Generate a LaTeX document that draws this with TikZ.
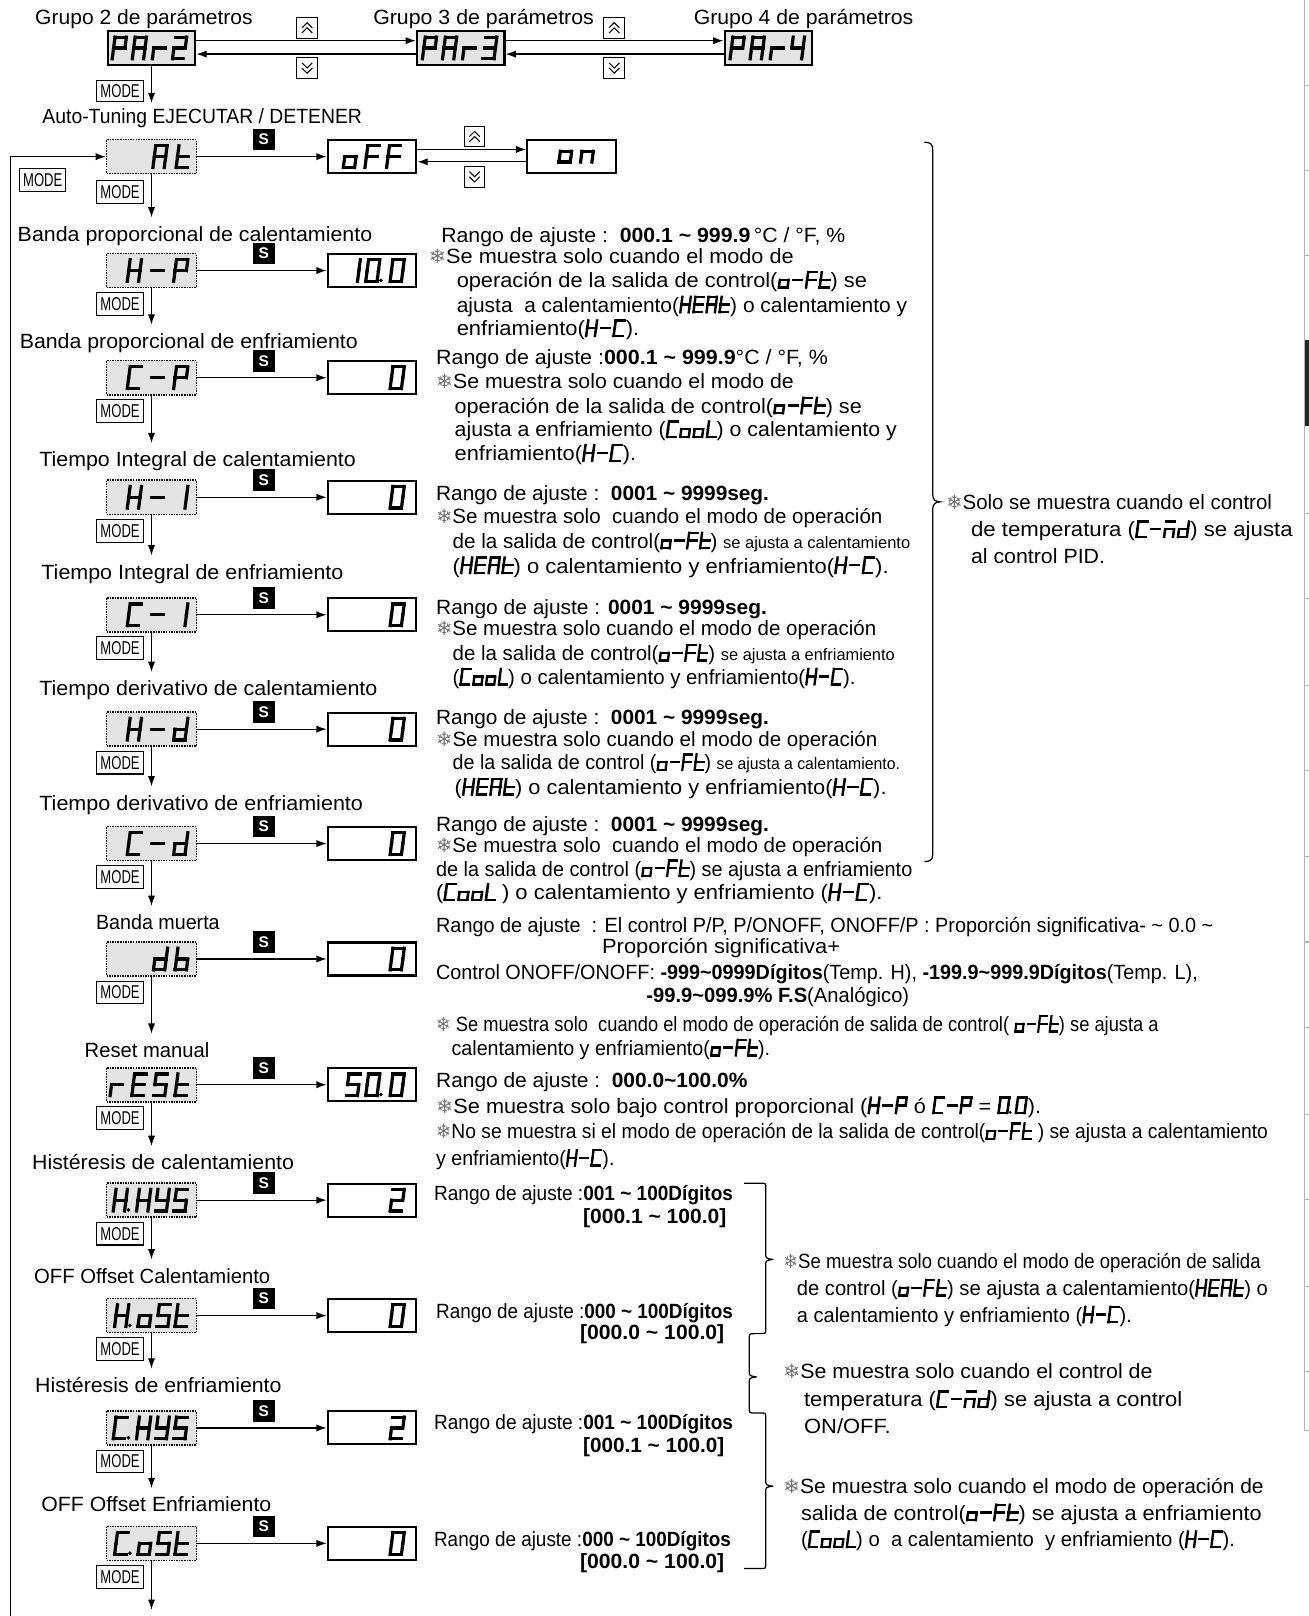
\documentclass[tikz,border=0pt]{standalone}
\usepackage{fontspec}
\setmainfont{Liberation Sans}
\newfontfamily\djv{DejaVu Sans}
\usepackage{graphicx}
\usetikzlibrary{arrows.meta}

\makeatletter
\newdimen\sg@x
\def\sg@seg@a{\draw (0,2)--(1,2);}
\def\sg@seg@b{\draw (1,2)--(1,1);}
\def\sg@seg@c{\draw (1,1)--(1,0);}
\def\sg@seg@d{\draw (0,0)--(1,0);}
\def\sg@seg@e{\draw (0,0)--(0,1);}
\def\sg@seg@f{\draw (0,1)--(0,2);}
\def\sg@seg@g{\draw (0,1)--(1,1);}
\def\sg@put#1{\begin{scope}[xshift=\the\sg@x,xslant=0.13]\foreach \sgS in {#1}{\csname sg@seg@\sgS\endcsname}\end{scope}\global\advance\sg@x by \sgA\relax}
\def\sg@d#1#2{\expandafter\def\csname sgc@#1\endcsname{\sg@put{#2}}}
\sg@d{0}{a,b,c,d,e,f}
\sg@d{1}{b,c}
\sg@d{2}{a,b,g,e,d}
\sg@d{3}{a,b,g,c,d}
\sg@d{4}{f,g,b,c}
\sg@d{5}{a,f,g,c,d}
\sg@d{S}{a,f,g,c,d}
\sg@d{P}{a,b,f,g,e}
\sg@d{A}{a,b,c,e,f,g}
\sg@d{r}{e,g}
\sg@d{t}{f,e,d,g}
\sg@d{o}{g,c,d,e}
\sg@d{F}{a,f,g,e}
\sg@d{n}{e,g,c}
\sg@d{H}{f,e,b,c,g}
\sg@d{-}{g}
\sg@d{C}{a,f,e,d}
\sg@d{I}{b,c}
\sg@d{d}{b,c,d,e,g}
\sg@d{b}{f,e,d,c,g}
\sg@d{E}{a,f,g,e,d}
\sg@d{Y}{f,b,g,c,d}
\sg@d{L}{f,e,d}
\sg@d{m}{a,e,g,c}
\expandafter\def\csname sgc@_\endcsname{\global\advance\sg@x by \sgA\relax}
\expandafter\def\csname sgc@.\endcsname{\begin{scope}[xshift={\the\sg@x-\sgA+\sgW+1.2*\sgL}]\fill (0,0.3*\sgL) circle[radius=0.62*\sgL];\end{scope}\global\advance\sg@x by 1.5\dimexpr\sgL\relax}
\def\sg@parse#1{\ifx\relax#1\else\csname sgc@#1\endcsname\expandafter\sg@parse\fi}
\newcommand\sevseg[5]{\tikz[baseline=0pt,x=#1,y=#2,line width=#4,line cap=rect]{\def\sgA{#3}\def\sgW{#1}\def\sgL{#4}\global\sg@x=0pt\relax\sg@parse#5\relax}}
\makeatother

\newcommand\dspl[2][20.5pt]{\sevseg{11pt}{10.5pt}{#1}{3.1pt}{#2}}
\newcommand\sgi[1]{\sevseg{8pt}{7.5pt}{12.5pt}{2.3pt}{#1}}
\newcommand\fitw[2]{\resizebox{#1pt}{\height}{#2}}
\newcommand\snow{{\djv\fontsize{19}{19}\selectfont\color{black!55}❄}}
\newcommand\modetxt{\fitw{38}{\fontsize{18}{18}\selectfont MODE}}
\newcommand\upch{\tikz[x=1pt,y=1pt,line width=1pt]{\draw (0,0)--(5,5)--(10,0); \draw (0,5)--(5,10)--(10,5);}}
\newcommand\dnch{\tikz[x=1pt,y=1pt,line width=1pt]{\draw (0,10)--(5,5)--(10,10); \draw (0,5)--(5,0)--(10,5);}}

\tikzset{
  txt/.style={anchor=base west,inner sep=0pt,font=\fontsize{20}{24}\selectfont},
  txe/.style={anchor=base east,inner sep=0pt,font=\fontsize{20}{24}\selectfont},
  arr/.style={-{Latex[length=10pt,width=7pt]},line width=1.2pt},
  disp/.style={draw,densely dotted,line width=1.5pt,fill=gray!22,minimum width=87pt,minimum height=33pt,inner sep=0pt},
  parbox/.style={draw,line width=2pt,fill=gray!22,minimum width=85pt,minimum height=33pt,inner sep=0pt},
  valbox/.style={draw,line width=2pt,fill=white,minimum width=86pt,minimum height=32pt,inner sep=0pt},
  glyph/.style={inner sep=0pt},
  sbox/.style={fill=black,text=white,minimum width=22pt,minimum height=21pt,inner sep=0pt,font=\fontsize{15}{15}\selectfont\bfseries},
  modebtn/.style={draw,line width=1pt,minimum width=45pt,minimum height=22pt,inner sep=0pt},
  btn/.style={draw,line width=1pt,minimum width=20pt,minimum height=20pt,inner sep=0pt},
  brace/.style={line width=1.2pt}
}

\newcommand\prow[6]{%
  \node[disp] (d#1) at (147,#2+16.5) {};
  \node[glyph,anchor=east] (dg#1) at (184,#2+16.5) {\dspl[#6]{#3}};
  \node[valbox] (v#1) at (361,#2+16.5) {};
  \node[glyph,anchor=east] (vg#1) at (394,#2+16.5) {\dspl[19pt]{#4}};
  \node[sbox] (s#1) at (256,#2) {S};
  \node[modebtn] (m#1) at (116.5,#2+49) {\modetxt};
  \coordinate (e#1) at (147,#5);
  \draw[arr] (d#1) -- (v#1);
  \draw[arr] (d#1) -- (e#1);
}

\begin{document}
\begin{tikzpicture}[x=1pt,y=-1pt]
\useasboundingbox (0,0) rectangle (1270,1568);
\fill[white] (0,0) rectangle (1270,1568);

% right page strip
\draw[gray!60,line width=1.2pt] (1266,0) -- (1266,1388) -- (1270,1388);
\foreach \yy in {83,165,248,498,581,665,748,831,914,997,1081,1164,1248,1331} \draw[gray!60,line width=1pt] (1266,\yy) -- (1270,\yy);
\fill[black!85] (1266,330) rectangle (1270,413);

% top row
\node[txt] (g2) at (34,24) {\fitw{211}{Grupo 2 de parámetros}};
\node[txt] (g3) at (362,24) {\fitw{214}{Grupo 3 de parámetros}};
\node[txt] (g4) at (673,24) {\fitw{213}{Grupo 4 de parámetros}};
\node[parbox] (p2) at (147,46.5) {};
\node[parbox] (p3) at (447,46.5) {};
\node[parbox] (p4) at (745.5,46.5) {};
\node[glyph] (p2g) at (145,46.5) {\dspl[19.5pt]{PAr2}};
\node[glyph] (p3g) at (446,46.5) {\dspl[19.5pt]{PAr3}};
\node[glyph] (p4g) at (744.5,46.5) {\dspl[19.5pt]{PAr4}};
\node[btn] (u1) at (298,27) {\upch};
\node[btn] (w1) at (298,66) {\dnch};
\node[btn] (u2) at (596,27) {\upch};
\node[btn] (w2) at (596,66) {\dnch};
\draw[arr] ([yshift=7pt]p2.east) -- ([yshift=7pt]p3.west);
\draw[arr] ([yshift=-6pt]p3.west) -- ([yshift=-6pt]p2.east);
\draw[arr] ([yshift=7pt]p3.east) -- ([yshift=7pt]p4.west);
\draw[arr] ([yshift=-6pt]p4.west) -- ([yshift=-6pt]p3.east);
\node[modebtn,minimum height=20pt] (m0) at (116.5,88.5) {\modetxt};
\coordinate (e0) at (147,100);
\draw[arr] (p2) -- (e0);

% AT row
\node[txt] (lat) at (41,120) {\fitw{310}{Auto-Tuning EJECUTAR / DETENER}};
\node[disp] (dAt) at (147,152) {};
\node[glyph,anchor=east] (dgAt) at (185,152) {\dspl[22.5pt]{At}};
\node[sbox] (sAt) at (256,135.5) {S};
\node[valbox] (oF) at (361,152) {};
\node[glyph] (oFg) at (361,152) {\dspl[21pt]{oFF}};
\node[valbox] (on) at (554.5,152) {};
\node[glyph] (ong) at (559,152) {\dspl[21pt]{on}};
\node[btn] (u3) at (460.5,132.5) {\upch};
\node[btn] (w3) at (460.5,171.5) {\dnch};
\draw[arr] (dAt) -- (oF);
\draw[arr] ([yshift=7pt]oF.east) -- ([yshift=7pt]on.west);
\draw[arr] ([yshift=-5pt]on.west) -- ([yshift=-5pt]oF.east);
\node[modebtn] (mAt) at (116.5,186) {\modetxt};
\coordinate (eAt) at (147,211);
\draw[arr] (dAt) -- (eAt);
\coordinate (lb) at (10,1568);
\draw[arr] (lb) |- (dAt.west);
\node[modebtn] (mL) at (41.5,174.5) {\modetxt};

% labels
\node[txt] (l1) at (17,234) {\fitw{344}{Banda proporcional de calentamiento}};
\node[txt] (l2) at (19,338) {\fitw{328}{Banda proporcional de enfriamiento}};
\node[txt] (l3) at (38,453) {\fitw{307}{Tiempo Integral de calentamiento}};
\node[txt] (l4) at (40,562) {\fitw{293}{Tiempo Integral de enfriamiento}};
\node[txt] (l5) at (38,675) {\fitw{328}{Tiempo derivativo de calentamiento}};
\node[txt] (l6) at (38,786) {\fitw{314}{Tiempo derivativo de enfriamiento}};
\node[txt] (l7) at (93,902) {\fitw{120}{Banda muerta}};
\node[txt] (l8) at (82,1026) {\fitw{121}{Reset manual}};
\node[txt] (l9) at (31,1135) {\fitw{254}{Histéresis de calentamiento}};
\node[txt] (l10) at (33,1245) {\fitw{229}{OFF Offset Calentamiento}};
\node[txt] (l11) at (34,1351) {\fitw{239}{Histéresis de enfriamiento}};
\node[txt] (l12) at (40,1467) {\fitw{223}{OFF Offset Enfriamiento}};

% parameter rows
\prow{HP}{246}{H-P}{10.0}{315}{22.5pt}
\prow{CP}{350}{C-P}{0}{430}{22.5pt}
\prow{HI}{466}{H-I}{0}{539}{22.5pt}
\prow{CI}{580}{C-I}{0}{652}{22.5pt}
\prow{Hd}{691}{H-d}{0}{763}{22.5pt}
\prow{Cd}{802}{C-d}{0}{879}{22.5pt}
\prow{db}{914}{db}{0}{1003}{21pt}
\prow{rESt}{1036}{rESt}{50.0}{1112}{21pt}
\prow{HHYS}{1148}{H.HYS}{2}{1222}{18pt}
\prow{HoSt}{1260}{H.oSt}{0}{1328}{18pt}
\prow{CHYS}{1369}{C.HYS}{2}{1444}{18pt}
\prow{CoSt}{1481}{C.oSt}{0}{1562}{18pt}

% texts H-P
\node[txt] (t1a) at (428,235) {\fitw{392}{Rango de ajuste :\ \ \textbf{000.1 \textasciitilde{} 999.9}\,°C / °F, \%}};
\node[txt] (t1b) at (416,256) {\fitw{354}{\snow Se muestra solo cuando el modo de}};
\node[txt] (t1c) at (443,279) {\fitw{398}{operación de la salida de control(\sgi{o-Ft}) se}};
\node[txt] (t1d) at (443,303) {\fitw{437}{ajusta\ \ a calentamiento(\sgi{HEAt}) o calentamiento y}};
\node[txt] (t1e) at (443,326) {\fitw{177}{enfriamiento(\sgi{H-C}).}};
% C-P
\node[txt] (t2a) at (423,354) {\fitw{380}{Rango de ajuste :\textbf{000.1 \textasciitilde{} 999.9}°C / °F, \%}};
\node[txt] (t2b) at (423,377) {\fitw{347}{\snow Se muestra solo cuando el modo de}};
\node[txt] (t2c) at (441,401) {\fitw{395}{operación de la salida de control(\sgi{o-Ft}) se}};
\node[txt] (t2d) at (441,424) {\fitw{429}{ajusta a enfriamiento (\sgi{CooL}) o calentamiento y}};
\node[txt] (t2e) at (441,447) {\fitw{176}{enfriamiento(\sgi{H-C}).}};
% H-I
\node[txt] (t3a) at (423,486) {\fitw{323}{Rango de ajuste :\ \ \textbf{0001 \textasciitilde{} 9999seg.}}};
\node[txt] (t3b) at (423,508) {\fitw{433}{\snow Se muestra solo\ \ cuando el modo de operación}};
\node[txt] (t3c) at (439,532) {\fitw{444}{de la salida de control(\sgi{o-Ft}) {\fontsize{16}{16}\selectfont se ajusta a calentamiento}}};
\node[txt] (t3d) at (439,556) {\fitw{423}{(\sgi{HEAt}) o calentamiento y enfriamiento(\sgi{H-C}).}};
% C-I
\node[txt] (t4a) at (423,596) {\fitw{321}{Rango de ajuste : \textbf{0001 \textasciitilde{} 9999seg.}}};
\node[txt] (t4b) at (423,617) {\fitw{427}{\snow Se muestra solo cuando el modo de operación}};
\node[txt] (t4c) at (439,641) {\fitw{429}{de la salida de control(\sgi{o-Ft}) {\fontsize{16}{16}\selectfont se ajusta a enfriamiento}}};
\node[txt] (t4d) at (439,664) {\fitw{391}{(\sgi{CooL}) o calentamiento y enfriamiento(\sgi{H-C}).}};
% H-d
\node[txt] (t5a) at (423,703) {\fitw{323}{Rango de ajuste :\ \ \textbf{0001 \textasciitilde{} 9999seg.}}};
\node[txt] (t5b) at (423,724) {\fitw{428}{\snow Se muestra solo cuando el modo de operación}};
\node[txt] (t5c) at (439,747) {\fitw{434}{de la salida de control (\sgi{o-Ft}) {\fontsize{16}{16}\selectfont se ajusta a calentamiento.}}};
\node[txt] (t5d) at (441,771) {\fitw{419}{(\sgi{HEAt}) o calentamiento y enfriamiento(\sgi{H-C}).}};
% C-d
\node[txt] (t6a) at (423,807) {\fitw{323}{Rango de ajuste :\ \ \textbf{0001 \textasciitilde{} 9999seg.}}};
\node[txt] (t6b) at (423,827) {\fitw{433}{\snow Se muestra solo\ \ cuando el modo de operación}};
\node[txt] (t6c) at (423,850) {\fitw{462}{de la salida de control (\sgi{o-Ft}) se ajusta a enfriamiento}};
\node[txt] (t6d) at (423,873) {\fitw{433}{(\sgi{CooL} ) o calentamiento y enfriamiento (\sgi{H-C}).}};
% db
\node[txt] (t7a) at (423,905) {\fitw{754}{Rango de ajuste\ \ : El control P/P, P/ONOFF, ONOFF/P : Proporción significativa- \textasciitilde{} 0.0 \textasciitilde}};
\node[txt] (t7b) at (584,925) {\fitw{231}{Proporción significativa+}};
\node[txt] (t7c) at (423,950) {\fitw{739}{Control ONOFF/ONOFF: \textbf{-999\textasciitilde0999Dígitos}(Temp. H), \textbf{-199.9\textasciitilde999.9Dígitos}(Temp. L),}};
\node[txt] (t7d) at (627,973) {\fitw{255}{\textbf{-99.9\textasciitilde099.9\% F.S}(Analógico)}};
\node[txt] (t7e) at (423,1001) {\fitw{701}{\snow\ Se muestra solo\ \ cuando el modo de operación de salida de control( \sgi{o-Ft}) se ajusta a}};
\node[txt] (t7f) at (438,1024) {\fitw{309}{calentamiento y enfriamiento(\sgi{o-Ft}).}};
% rESt
\node[txt] (t8a) at (423,1055) {\fitw{302}{Rango de ajuste :\ \ \textbf{000.0\textasciitilde100.0\%}}};
\node[txt] (t8b) at (423,1080) {\fitw{587}{\snow Se muestra solo bajo control proporcional (\sgi{H-P} ó \sgi{C-P} = \sgi{0.0}).}};
\node[txt] (t8c) at (423,1105) {\fitw{807}{\snow No se muestra si el modo de operación de la salida de control(\sgi{o-Ft} ) se ajusta a calentamiento}};
\node[txt] (t8d) at (423,1131) {\fitw{173}{y enfriamiento(\sgi{H-C}).}};
% hysteresis / offset
\node[txt] (t9a) at (421,1165) {\fitw{290}{Rango de ajuste :\textbf{001 \textasciitilde{} 100Dígitos}}};
\node[txe] (t9b) at (705,1187) {\fitw{139}{\textbf{[000.1 \textasciitilde{} 100.0]}}};
\node[txt] (t10a) at (423,1279) {\fitw{288}{Rango de ajuste :\textbf{000 \textasciitilde{} 100Dígitos}}};
\node[txe] (t10b) at (703,1300) {\fitw{140}{\textbf{[000.0 \textasciitilde{} 100.0]}}};
\node[txt] (t11a) at (421,1387) {\fitw{290}{Rango de ajuste :\textbf{001 \textasciitilde{} 100Dígitos}}};
\node[txe] (t11b) at (703,1409) {\fitw{137}{\textbf{[000.1 \textasciitilde{} 100.0]}}};
\node[txt] (t12a) at (421,1501) {\fitw{288}{Rango de ajuste :\textbf{000 \textasciitilde{} 100Dígitos}}};
\node[txe] (t12b) at (703,1522) {\fitw{140}{\textbf{[000.0 \textasciitilde{} 100.0]}}};

% right notes
\node[txt] (r1a) at (918,494) {\fitw{316}{\snow Solo se muestra cuando el control}};
\node[txt] (r1b) at (942,521) {\fitw{312}{de temperatura (\sgi{C-md}) se ajusta}};
\node[txt] (r1c) at (942,547) {\fitw{130}{al control PID.}};
\node[txt] (r2a) at (760,1231) {\fitw{463}{\snow Se muestra solo cuando el modo de operación de salida}};
\node[txt] (r2b) at (773,1257) {\fitw{457}{de control (\sgi{o-Ft}) se ajusta a calentamiento(\sgi{HEAt}) o}};
\node[txt] (r2c) at (773,1283) {\fitw{325}{a calentamiento y enfriamiento (\sgi{H-C}).}};
\node[txt] (r3a) at (760,1338) {\fitw{358}{\snow Se muestra solo cuando el control de}};
\node[txt] (r3b) at (780,1365) {\fitw{367}{temperatura (\sgi{C-md}) se ajusta a control}};
\node[txt] (r3c) at (780,1391) {\fitw{84}{ON/OFF.}};
\node[txt] (r4a) at (760,1449) {\fitw{466}{\snow Se muestra solo cuando el modo de operación de}};
\node[txt] (r4b) at (777,1475) {\fitw{447}{salida de control(\sgi{o-Ft}) se ajusta a enfriamiento}};
\node[txt] (r4c) at (777,1501) {\fitw{421}{(\sgi{CooL}) o\ \ a calentamiento\ \ y enfriamiento (\sgi{H-C}).}};

% braces
\draw[brace] (897,138) .. controls (903,138) and (905,140) .. (905,146) -- (905,480) .. controls (905,485) and (908,487) .. (912,487) .. controls (908,487) and (905,489) .. (905,494) -- (905,829) .. controls (905,834) and (903,836) .. (897,836);
\draw[brace,line join=round] (722,1148) -- (738,1148) .. controls (743,1148) .. (743,1153) -- (743,1216) .. controls (743,1221) .. (750,1222) .. controls (743,1223) .. (743,1228) -- (743,1289) .. controls (743,1294) .. (738,1294) -- (732,1294) .. controls (727,1294) .. (727,1299) -- (727,1330) .. controls (727,1335) .. (734,1336) .. controls (727,1337) .. (727,1342) -- (727,1366) .. controls (727,1371) .. (732,1371) -- (738,1371) .. controls (743,1371) .. (743,1376) -- (743,1436) .. controls (743,1441) .. (750,1442) .. controls (743,1443) .. (743,1448) -- (743,1517) .. controls (743,1522) .. (738,1522) -- (722,1522);
\end{tikzpicture}
\end{document}
